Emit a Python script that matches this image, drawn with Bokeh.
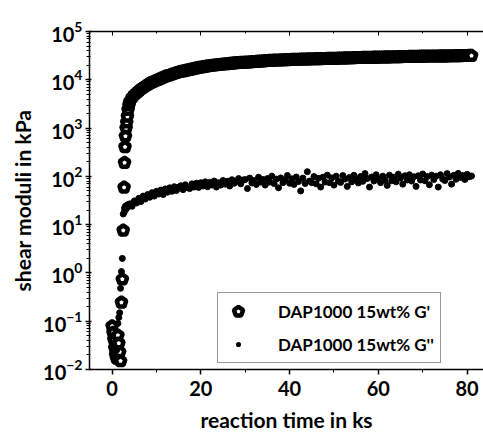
from bokeh.plotting import figure
from bokeh.models import (LinearAxis, Range1d, Legend, LegendItem,
                          SingleIntervalTicker, LogTicker, CustomJSTickFormatter)
from bokeh.embed import file_html
from bokeh.resources import INLINE

# reaction time in ks (shared by both series)
time_ks = [0.0, 0.2, 0.4, 0.6, 0.8, 1.0, 1.3, 1.5, 1.7, 1.9, 2.1, 2.3, 2.5, 2.7, 2.8, 2.9, 3.0, 3.15, 3.3, 3.45, 3.6, 3.8,
           4.0, 4.5, 5.0, 5.5, 6.0, 6.5, 7.0, 7.5, 8.0, 8.5,
           9.0, 9.5, 10.0, 10.5, 11.0, 11.5, 12.0, 12.5, 13.0, 13.5,
           14.0, 14.5, 15.0, 15.5, 16.0, 16.5, 17.0, 17.5, 18.0, 18.5,
           19.0, 19.5, 20.0, 20.5, 21.0, 21.5, 22.0, 22.5, 23.0, 23.5,
           24.0, 24.5, 25.0, 25.5, 26.0, 26.5, 27.0, 27.5, 28.0, 28.5,
           29.0, 29.5, 30.0, 30.5, 31.0, 31.5, 32.0, 32.5, 33.0, 33.5,
           34.0, 34.5, 35.0, 35.5, 36.0, 36.5, 37.0, 37.5, 38.0, 38.5,
           39.0, 39.5, 40.0, 40.5, 41.0, 41.5, 42.0, 42.5, 43.0, 43.5,
           44.0, 44.5, 45.0, 45.5, 46.0, 46.5, 47.0, 47.5, 48.0, 48.5,
           49.0, 49.5, 50.0, 50.5, 51.0, 51.5, 52.0, 52.5, 53.0, 53.5,
           54.0, 54.5, 55.0, 55.5, 56.0, 56.5, 57.0, 57.5, 58.0, 58.5,
           59.0, 59.5, 60.0, 60.5, 61.0, 61.5, 62.0, 62.5, 63.0, 63.5,
           64.0, 64.5, 65.0, 65.5, 66.0, 66.5, 67.0, 67.5, 68.0, 68.5,
           69.0, 69.5, 70.0, 70.5, 71.0, 71.5, 72.0, 72.5, 73.0, 73.5,
           74.0, 74.5, 75.0, 75.5, 76.0, 76.5, 77.0, 77.5, 78.0, 78.5,
           79.0, 79.5, 80.0, 80.5, 81.0]

# storage modulus G' in kPa
g_storage = [0.079, 0.058, 0.042, 0.028, 0.020, 0.017, 0.051, 0.035, 0.023, 0.015, 0.245, 0.74, 7.6, 59, 192, 407, 676, 1000, 1320, 1740, 2400, 3000,
             3550, 4270, 4900, 5370, 5890, 6460, 6920, 7410, 7940, 8510,
             8910, 9330, 9770, 10200, 10700, 11200, 11750, 12150, 12590, 13050,
             13490, 13950, 14450, 14800, 15140, 15500, 15850, 16200, 16600, 17000,
             17380, 17800, 18200, 18500, 18850, 19150, 19500, 19750, 19950, 20200,
             20420, 20650, 20900, 21150, 21380, 21650, 21900, 22150, 22390, 22520,
             22650, 22780, 22900, 23080, 23260, 23440, 23620, 23800, 24000, 24180,
             24370, 24560, 24740, 24930, 25120, 25230, 25340, 25450, 25560, 25670,
             25780, 25890, 26000, 26090, 26180, 26270, 26360, 26450, 26540, 26630,
             26720, 26810, 26900, 26960, 27030, 27090, 27160, 27220, 27290, 27350,
             27420, 27480, 27540, 27640, 27730, 27830, 27920, 28020, 28110, 28210,
             28300, 28400, 28500, 28570, 28630, 28700, 28770, 28830, 28900, 28970,
             29030, 29100, 29170, 29240, 29300, 29370, 29440, 29510, 29580, 29650,
             29710, 29780, 29850, 29920, 29990, 30060, 30130, 30200, 30270, 30340,
             30410, 30480, 30550, 30590, 30620, 30660, 30690, 30730, 30760, 30800,
             30830, 30870, 30900, 30960, 31020, 31080, 31140, 31200, 31260, 31320,
             31380, 31440, 31500, 31560, 31620]

# loss modulus G'' in kPa
g_loss = [0.05, 0.035, 0.03, 0.022, 0.018, 0.025, 0.09, 0.12, 0.15, 0.48, 1.07, 2.0, 16.6, 18, 22, 20, 24, 21, 25, 23, 26, 25,
          27, 24, 31, 28, 35, 30, 39, 34, 42, 37,
          46, 39, 49, 43, 52, 42, 55, 47, 58, 49,
          61, 51, 60, 64, 53, 67, 58, 56, 70, 60,
          72, 59, 74, 63, 77, 61, 75, 66, 80, 60,
          74, 66, 82, 69, 79, 63, 85, 72, 78, 90,
          70, 84, 86, 56, 92, 73, 82, 68, 96, 76,
          86, 66, 90, 76, 101, 71, 88, 58, 93, 74,
          84, 104, 72, 89, 68, 97, 78, 50, 92, 71,
          125, 80, 74, 99, 70, 91, 60, 96, 76, 106,
          74, 93, 66, 101, 80, 75, 104, 88, 62, 95,
          77, 105, 88, 73, 99, 79, 114, 90, 60, 97,
          80, 108, 90, 74, 101, 83, 65, 106, 81, 96,
          77, 111, 92, 69, 103, 84, 108, 80, 98, 62,
          103, 84, 112, 81, 99, 67, 106, 86, 101, 60,
          108, 88, 82, 114, 97, 69, 105, 87, 115, 95,
          104, 86, 110, 98, 102]

label_storage = "DAP1000 15wt% G'"
label_loss = "DAP1000 15wt% G''"
x_title = "reaction time in ks"
y_title = "shear moduli in kPa"

FONT = "Lato"
NAN = float("nan")

p = figure(width=483, height=434, x_range=Range1d(-5.1, 83.7), y_range=Range1d(1e-2, 1e5),
           y_axis_type="log", output_backend="svg", toolbar_location=None,
           min_border_left=89, min_border_right=0, min_border_top=31, min_border_bottom=62)
p.grid.visible = False
p.outline_line_color = None
p.background_fill_color = "white"
p.border_fill_color = "white"

r1 = p.ngon(x=time_ks, y=g_storage, radius=5, radius_units="screen", n=5, angle=0,
            fill_color="white", line_color="black", line_width=4.5)
r2 = p.scatter(x=time_ks, y=g_loss, marker="circle", size=6, fill_color="black", line_color="black")
# legend key for G'': small black dot (white rim trims the legend-sized circle); not drawn in the plot
r2_key = p.scatter(x=[NAN], y=[NAN], marker="circle", size=6, fill_color="black",
                   line_color="white", line_width=4.5)

xa = p.xaxis[0]
xa.ticker = SingleIntervalTicker(interval=20, num_minor_ticks=2)
ya = p.yaxis[0]
ya.ticker = LogTicker(num_minor_ticks=10)

for ax in (xa, ya):
    ax.axis_line_width = 1.5
    ax.axis_line_color = "black"
    ax.major_tick_line_width = 1.5
    ax.minor_tick_line_width = 1
    ax.major_label_text_font = FONT
    ax.major_label_text_font_style = "bold"
    ax.major_label_text_font_size = "20px"
    ax.major_label_text_color = "black"
    ax.axis_label_text_font = FONT
    ax.axis_label_text_font_style = "bold"
    ax.axis_label_text_font_size = "21px"
    ax.axis_label_text_color = "black"

xa.axis_label = x_title
xa.major_tick_in = 0
xa.major_tick_out = 5
xa.minor_tick_in = 0
xa.minor_tick_out = 3
xa.major_label_text_line_height = 1.0
xa.axis_label_text_line_height = 1.0
xa.major_label_standoff = 6
xa.axis_label_standoff = 8

ya.axis_label = y_title
ya.major_tick_in = 2
ya.major_tick_out = 4
ya.minor_tick_in = 1
ya.minor_tick_out = 3
ya.major_label_standoff = 3
ya.axis_label_standoff = 5

top = LinearAxis(ticker=SingleIntervalTicker(interval=20, num_minor_ticks=2),
                 formatter=CustomJSTickFormatter(code="return ''"))
top.major_label_standoff = 0
top.axis_line_width = 1.5
top.major_tick_in = 4
top.major_tick_out = 0
top.minor_tick_in = 2
top.minor_tick_out = 0
p.add_layout(top, "above")

legend = Legend(items=[LegendItem(label=label_storage, renderers=[r1]),
                       LegendItem(label=label_loss, renderers=[r2_key])],
                location=(128, 6))
legend.label_text_font = FONT
legend.label_text_font_style = "bold"
legend.label_text_font_size = "17px"
legend.label_text_color = "black"
legend.label_height = 24
legend.border_line_color = "#333333"
legend.border_line_width = 1
legend.padding = 6
legend.spacing = 9
legend.glyph_width = 28
legend.glyph_height = 24
legend.label_standoff = 26
legend.margin = 0
p.add_layout(legend)

open("out.html", "w").write(file_html(p, INLINE))
